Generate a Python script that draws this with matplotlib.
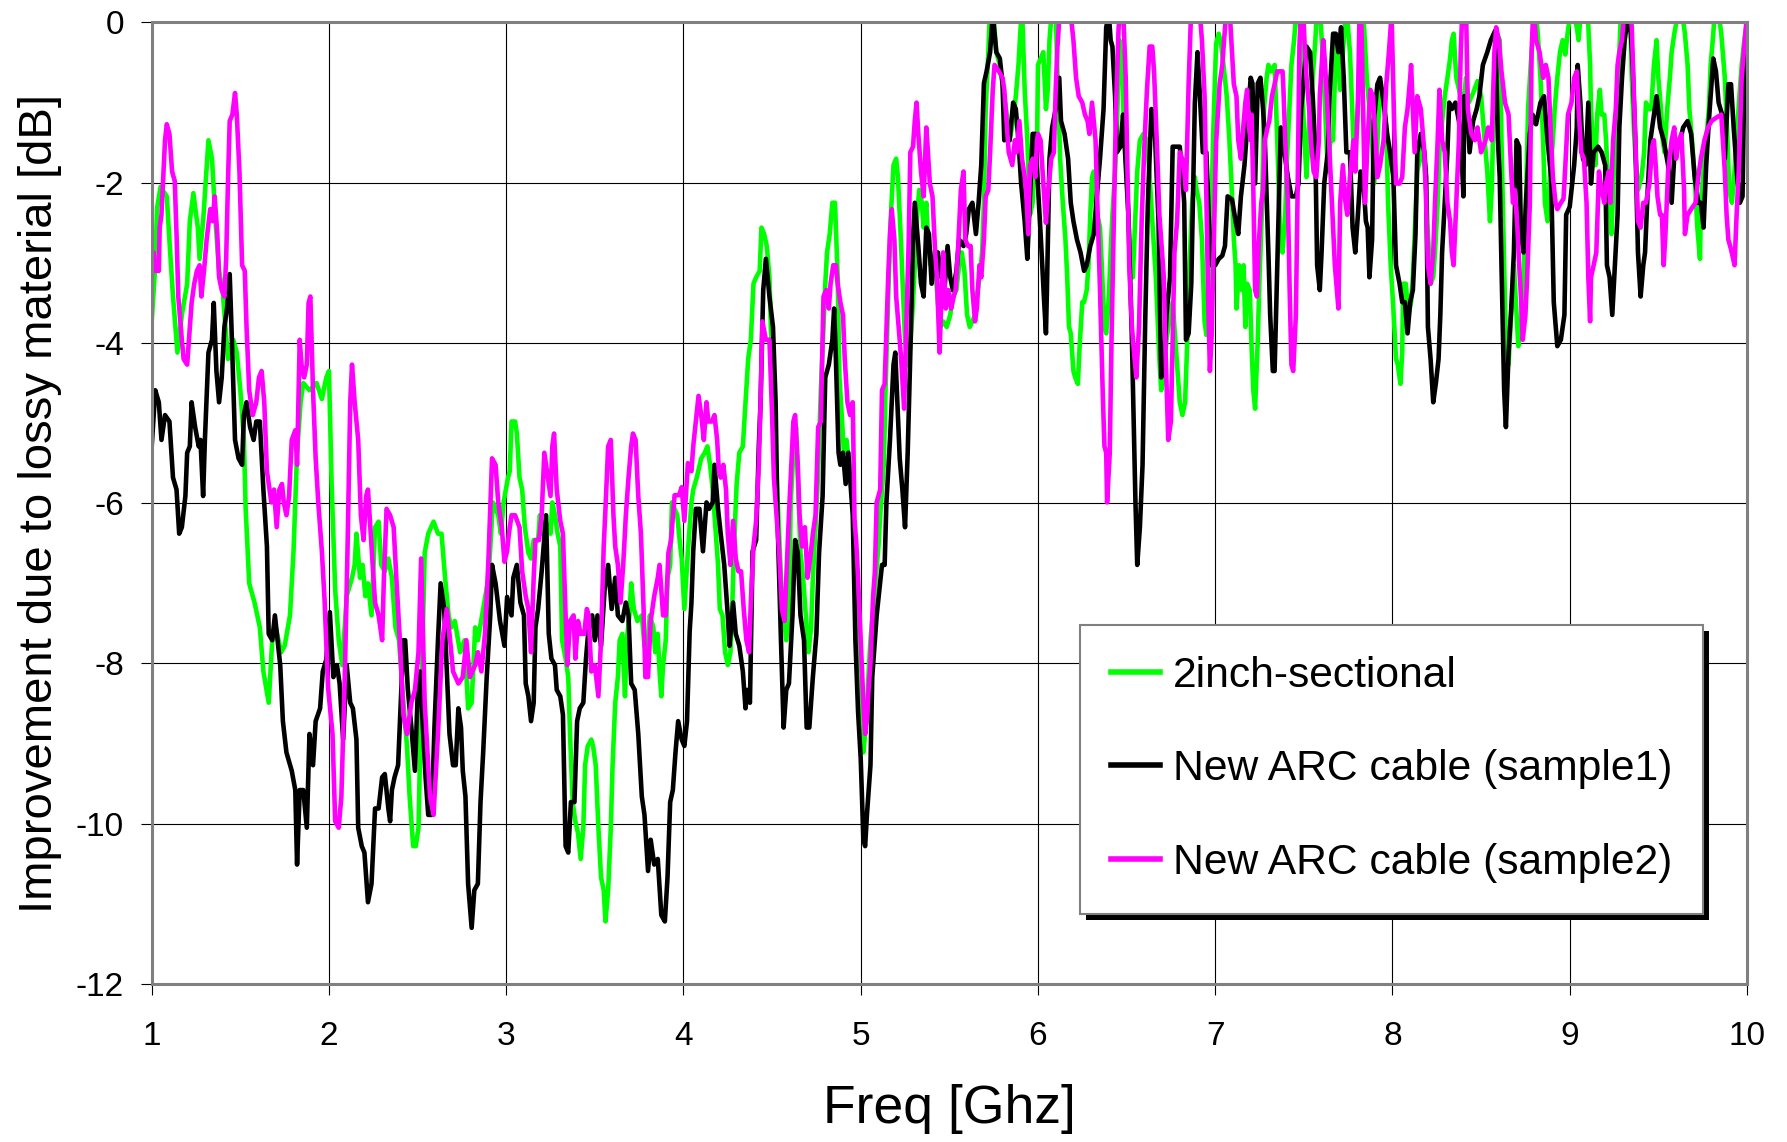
import matplotlib
matplotlib.use('Agg')
import matplotlib.pyplot as plt
from matplotlib.patches import Rectangle
from matplotlib.transforms import IdentityTransform

plt.rcParams['font.family'] = ['Liberation Sans', 'DejaVu Sans']
plt.rcParams['axes.unicode_minus'] = False

# (freq GHz, improvement dB)
green = [
    (1.00, -3.73), (1.02, -3.03), (1.03, -2.32), (1.05, -2.05), (1.085, -2.17), (1.105, -2.9),
    (1.12, -3.42), (1.145, -4.12), (1.17, -3.65), (1.20, -3.26), (1.215, -2.48), (1.235, -2.13),
    (1.26, -2.56), (1.27, -2.95), (1.29, -2.48), (1.32, -1.47), (1.34, -1.70), (1.36, -2.48),
    (1.38, -3.1), (1.40, -3.34), (1.43, -4.2), (1.46, -3.96), (1.48, -4.12), (1.50, -4.59),
    (1.52, -5.2), (1.53, -6.07), (1.55, -7.0), (1.58, -7.24), (1.61, -7.55), (1.63, -8.1),
    (1.66, -8.49), (1.68, -7.71), (1.70, -7.55), (1.73, -7.86), (1.75, -7.78), (1.78, -7.4),
    (1.80, -6.6), (1.82, -5.37), (1.84, -4.74), (1.855, -4.5), (1.89, -4.59), (1.93, -4.5),
    (1.96, -4.7), (1.985, -4.43), (2.0, -4.35), (2.015, -5.76), (2.035, -7.08), (2.055, -7.71),
    (2.075, -8.02), (2.1, -7.16), (2.13, -6.93), (2.145, -6.77), (2.155, -6.38), (2.175, -6.93),
    (2.19, -6.77), (2.205, -7.16), (2.22, -7.0), (2.24, -7.4), (2.26, -6.3), (2.28, -6.23),
    (2.295, -6.77), (2.315, -6.85), (2.335, -6.69), (2.355, -6.93), (2.375, -7.55), (2.395, -7.71),
    (2.42, -8.49), (2.44, -9.03), (2.455, -9.66), (2.475, -10.28), (2.49, -10.28), (2.505, -10.05),
    (2.52, -8.49), (2.54, -6.62), (2.56, -6.38), (2.59, -6.23), (2.615, -6.38), (2.635, -6.38),
    (2.655, -6.93), (2.675, -7.4), (2.69, -7.55), (2.71, -7.47), (2.74, -7.86), (2.765, -7.71),
    (2.785, -8.56), (2.805, -8.49), (2.825, -7.55), (2.84, -7.71), (2.87, -7.32), (2.9, -6.93),
    (2.925, -5.99), (2.955, -6.15), (2.97, -6.38), (2.985, -5.99), (3.01, -5.68), (3.02, -5.6),
    (3.03, -4.98), (3.05, -4.98), (3.06, -5.13), (3.075, -5.68), (3.09, -5.83), (3.105, -6.3),
    (3.125, -6.62), (3.14, -6.69), (3.155, -6.46), (3.18, -6.46), (3.19, -6.15), (3.205, -6.38),
    (3.22, -6.23), (3.235, -6.3), (3.25, -6.38), (3.26, -5.99), (3.275, -6.15), (3.29, -6.38),
    (3.305, -6.54), (3.315, -7.71), (3.335, -7.94), (3.35, -8.17), (3.36, -8.88), (3.375, -9.73),
    (3.39, -9.97), (3.405, -10.12), (3.42, -10.44), (3.435, -10.05), (3.445, -9.27), (3.46, -9.03),
    (3.48, -8.95), (3.49, -9.03), (3.505, -9.27), (3.52, -10.05), (3.535, -10.67), (3.55, -10.83),
    (3.56, -11.22), (3.575, -10.83), (3.59, -10.05), (3.6, -9.27), (3.615, -8.49), (3.63, -8.17),
    (3.64, -7.71), (3.655, -7.63), (3.67, -8.41), (3.68, -7.71), (3.695, -7.4), (3.705, -7.0),
    (3.72, -7.32), (3.74, -7.47), (3.765, -7.4), (3.78, -7.78), (3.795, -7.86), (3.81, -7.4),
    (3.83, -7.55), (3.84, -7.86), (3.855, -7.63), (3.865, -8.1), (3.875, -8.41), (3.885, -8.02),
    (3.9, -7.71), (3.91, -6.93), (3.925, -6.77), (3.935, -5.99), (3.95, -6.07), (3.965, -6.15),
    (3.98, -6.5), (3.99, -6.69), (4.005, -7.32), (4.025, -6.6), (4.045, -5.99), (4.055, -5.83),
    (4.075, -5.68), (4.1, -5.44), (4.12, -5.37), (4.135, -5.29), (4.15, -5.52), (4.165, -5.83),
    (4.18, -6.3), (4.195, -6.77), (4.205, -7.32), (4.22, -7.4), (4.235, -7.86), (4.25, -8.02),
    (4.265, -7.86), (4.275, -7.32), (4.285, -6.54), (4.3, -5.76), (4.315, -5.37), (4.335, -5.29),
    (4.35, -4.74), (4.365, -4.2), (4.38, -3.96), (4.395, -3.26), (4.41, -3.18), (4.43, -3.1),
    (4.44, -2.56), (4.455, -2.64), (4.47, -2.79), (4.485, -3.18), (4.495, -3.96), (4.51, -4.59),
    (4.52, -5.37), (4.535, -6.15), (4.55, -6.93), (4.565, -7.4), (4.58, -7.71), (4.595, -7.4),
    (4.605, -5.99), (4.62, -5.37), (4.635, -5.05), (4.65, -5.99), (4.66, -6.62), (4.675, -6.93),
    (4.69, -7.4), (4.705, -7.86), (4.72, -7.55), (4.73, -6.93), (4.745, -6.3), (4.76, -5.6),
    (4.775, -4.59), (4.79, -3.8), (4.8, -3.26), (4.81, -2.87), (4.825, -2.64), (4.84, -2.25),
    (4.855, -2.25), (4.87, -3.18), (4.88, -4.43), (4.895, -4.98), (4.905, -5.37), (4.92, -5.21),
    (4.935, -5.52), (4.95, -5.68), (4.96, -6.15), (4.975, -6.93), (4.985, -7.71), (5.0, -8.49),
    (5.015, -9.11), (5.03, -8.75), (5.045, -8.1), (5.055, -7.71), (5.07, -7.32), (5.085, -6.93),
    (5.1, -6.54), (5.11, -6.15), (5.13, -5.52), (5.14, -4.59), (5.155, -3.42), (5.17, -2.4),
    (5.185, -1.78), (5.2, -1.7), (5.21, -1.93), (5.225, -2.64), (5.235, -3.18), (5.25, -3.96),
    (5.265, -4.27), (5.28, -4.04), (5.295, -3.49), (5.305, -3.03), (5.315, -2.48), (5.33, -2.09),
    (5.345, -2.25), (5.355, -2.56), (5.37, -2.25), (5.38, -2.71), (5.395, -3.03), (5.41, -2.87),
    (5.425, -3.18), (5.435, -3.49), (5.45, -3.8), (5.465, -3.73), (5.485, -3.8), (5.505, -3.65),
    (5.52, -3.42), (5.54, -3.34), (5.555, -3.03), (5.57, -2.87), (5.585, -3.1), (5.6, -3.65),
    (5.615, -3.8), (5.63, -3.73), (5.645, -3.65), (5.655, -3.42), (5.67, -3.18), (5.685, -2.87),
    (5.695, -2.25), (5.705, -1.08), (5.72, -0.37), (5.73, 0.2), (5.745, 0.2), (5.765, -0.37),
    (5.785, -0.53), (5.805, -0.84), (5.82, -1.08), (5.84, -1.47), (5.86, -1.23), (5.875, -0.92),
    (5.89, -0.53), (5.9, -0.14), (5.91, 0.2), (5.925, -0.84), (5.94, -1.47), (5.955, -2.4),
    (5.97, -2.25), (5.98, -1.7), (5.995, -1.47), (6.0, -0.53), (6.015, -0.45), (6.03, -0.37),
    (6.045, -1.08), (6.055, -0.84), (6.065, -0.22), (6.08, 0.2), (6.1, 0.2), (6.11, -0.69),
    (6.12, -1.31), (6.125, -1.7), (6.14, -2.25), (6.155, -2.71), (6.165, -3.18), (6.175, -3.8),
    (6.185, -3.88), (6.2, -4.35), (6.21, -4.43), (6.225, -4.51), (6.235, -4.04), (6.25, -3.49),
    (6.26, -3.49), (6.275, -3.34), (6.285, -3.03), (6.295, -2.4), (6.305, -1.93), (6.315, -1.86),
    (6.325, -2.25), (6.335, -2.4), (6.35, -2.56), (6.36, -3.03), (6.375, -3.8), (6.385, -3.88),
    (6.4, -3.42), (6.41, -2.87), (6.42, -2.4), (6.435, -1.86), (6.445, -1.31), (6.46, -0.22),
    (6.475, -0.53), (6.485, -1.31), (6.5, -1.86), (6.52, -2.87), (6.535, -3.18), (6.545, -2.64),
    (6.56, -1.86), (6.575, -1.47), (6.595, -1.39), (6.615, -1.47), (6.63, -1.93), (6.645, -2.48),
    (6.665, -3.18), (6.685, -4.2), (6.695, -4.59), (6.71, -4.43), (6.725, -3.96), (6.74, -3.73),
    (6.76, -3.49), (6.77, -3.8), (6.785, -4.27), (6.8, -4.74), (6.815, -4.9), (6.83, -4.74),
    (6.84, -4.12), (6.855, -3.03), (6.87, -2.25), (6.885, -1.93), (6.895, -2.09), (6.91, -2.25),
    (6.925, -2.71), (6.94, -3.73), (6.95, -3.9), (6.965, -3.4), (6.975, -2.6), (6.99, -1.3),
    (7.005, -0.26), (7.02, -0.14), (7.035, -0.3), (7.05, -0.6), (7.065, -0.92), (7.08, -1.47),
    (7.095, -2.17), (7.105, -2.71), (7.115, -3.03), (7.12, -3.57), (7.135, -3.03), (7.15, -3.34),
    (7.16, -3.03), (7.17, -3.8), (7.18, -3.26), (7.195, -3.34), (7.205, -4.04), (7.215, -4.59),
    (7.225, -4.82), (7.24, -3.96), (7.25, -3.18), (7.265, -2.25), (7.275, -1.08), (7.29, -0.69),
    (7.3, -0.53), (7.315, -0.61), (7.335, -0.53), (7.35, -1.47), (7.365, -2.56), (7.38, -2.87),
    (7.395, -2.4), (7.405, -1.7), (7.42, -1.0), (7.43, -0.53), (7.445, -0.22), (7.46, 0.2),
    (7.475, 0.2), (7.49, -0.69), (7.5, -1.31), (7.515, -1.93), (7.525, -1.47), (7.535, -1.08),
    (7.55, -0.69), (7.565, -0.22), (7.575, 0.2), (7.59, 0.2), (7.605, -0.37), (7.62, -1.08),
    (7.635, -1.86), (7.65, -1.47), (7.665, -1.47), (7.675, -0.69), (7.69, -0.22), (7.705, -0.84),
    (7.715, -0.53), (7.725, -0.22), (7.74, 0.2), (7.76, -0.37), (7.78, -1.47), (7.8, -1.31),
    (7.815, -0.53), (7.825, 0.2), (7.84, -0.06), (7.855, -0.69), (7.87, -1.08), (7.885, -1.47),
    (7.895, -2.01), (7.91, -1.78), (7.92, -1.23), (7.935, -0.84), (7.95, -0.84), (7.965, -1.31),
    (7.975, -2.25), (7.99, -3.03), (8.005, -3.57), (8.02, -4.2), (8.03, -4.27), (8.045, -4.51),
    (8.055, -4.12), (8.06, -3.26), (8.075, -3.26), (8.09, -3.65), (8.105, -3.49), (8.115, -3.18),
    (8.125, -2.64), (8.14, -1.86), (8.155, -1.7), (8.165, -1.47), (8.18, -1.78), (8.19, -2.09),
    (8.2, -2.64), (8.215, -3.26), (8.23, -3.18), (8.24, -2.87), (8.255, -2.25), (8.265, -1.62),
    (8.28, -1.23), (8.295, -0.92), (8.31, -0.69), (8.325, -0.45), (8.335, -0.22), (8.345, -0.14),
    (8.36, -0.69), (8.38, -0.88), (8.405, -0.92), (8.415, -0.69), (8.43, -1.0), (8.455, -0.88),
    (8.48, -0.73), (8.5, -0.92), (8.52, -1.47), (8.535, -1.86), (8.55, -2.48), (8.56, -2.09),
    (8.575, -0.69), (8.59, -0.14), (8.605, -0.22), (8.615, -1.47), (8.63, -3.03), (8.64, -3.96),
    (8.655, -4.27), (8.67, -3.65), (8.685, -3.03), (8.7, -3.65), (8.71, -4.04), (8.725, -3.8),
    (8.74, -3.18), (8.755, -2.09), (8.765, -1.08), (8.78, -0.53), (8.79, -0.22), (8.805, 0.2),
    (8.82, -0.14), (8.835, -0.69), (8.85, -1.47), (8.86, -2.25), (8.875, -2.48), (8.89, -1.86),
    (8.905, -1.47), (8.915, -1.08), (8.93, -0.69), (8.945, -0.37), (8.96, -0.22), (8.975, -0.4),
    (8.99, -0.1), (9.01, 0.2), (9.04, -0.06), (9.05, -0.22), (9.065, 0.2), (9.1, 0.2),
    (9.115, -0.53), (9.12, -1.08), (9.13, -1.47), (9.145, -1.78), (9.155, -1.15), (9.17, -0.84),
    (9.18, -1.15), (9.195, -1.15), (9.205, -1.47), (9.215, -1.93), (9.225, -2.25), (9.235, -2.64),
    (9.245, -2.09), (9.255, -1.47), (9.27, -0.84), (9.28, -0.37), (9.29, 0.2), (9.34, 0.2),
    (9.35, -0.69), (9.365, -1.47), (9.385, -2.09), (9.405, -1.93), (9.42, -1.62), (9.43, -1.0),
    (9.445, -1.08), (9.46, -1.08), (9.475, -0.53), (9.49, -0.22), (9.5, -0.69), (9.515, -1.08),
    (9.525, -1.47), (9.535, -1.62), (9.55, -1.08), (9.565, -0.69), (9.575, -0.37), (9.59, -0.14),
    (9.61, 0.1), (9.635, 0.1), (9.65, -0.14), (9.665, -0.53), (9.675, -1.08), (9.69, -1.47),
    (9.705, -1.93), (9.72, -2.56), (9.735, -2.95), (9.74, -2.25), (9.755, -1.86), (9.77, -1.47),
    (9.785, -1.08), (9.795, -0.53), (9.81, -0.14), (9.82, 0.2), (9.835, 0.2), (9.855, -0.14),
    (9.875, -0.69), (9.89, -1.47), (9.9, -2.09), (9.915, -2.25), (9.93, -1.86), (9.945, -1.31),
    (9.96, -0.84), (9.97, -0.53), (9.985, -0.22), (10.0, 0.0),
]

sample1 = [
    (1.0, -5.29), (1.02, -4.59), (1.04, -4.74), (1.055, -5.21), (1.075, -4.9), (1.10, -4.98),
    (1.12, -5.68), (1.14, -5.83), (1.155, -6.38), (1.17, -6.3), (1.19, -5.91), (1.20, -5.37),
    (1.215, -5.29), (1.225, -4.74), (1.245, -5.05), (1.265, -5.29), (1.275, -5.21), (1.29, -5.91),
    (1.30, -5.21), (1.32, -4.12), (1.34, -3.96), (1.35, -3.5), (1.365, -4.35), (1.38, -4.74),
    (1.395, -4.43), (1.41, -3.8), (1.425, -3.57), (1.44, -3.14), (1.45, -3.8), (1.47, -5.21),
    (1.49, -5.44), (1.51, -5.52), (1.52, -4.9), (1.535, -4.74), (1.555, -5.05), (1.575, -5.21),
    (1.59, -4.98), (1.61, -4.98), (1.63, -5.83), (1.65, -6.54), (1.66, -7.63), (1.68, -7.71),
    (1.695, -7.4), (1.725, -8.02), (1.74, -8.72), (1.76, -9.11), (1.79, -9.34), (1.81, -9.58),
    (1.82, -10.51), (1.835, -9.58), (1.855, -9.58), (1.875, -10.05), (1.89, -8.88), (1.91, -9.27),
    (1.925, -8.72), (1.95, -8.56), (1.965, -8.1), (1.985, -7.95), (2.005, -7.36), (2.025, -8.17),
    (2.045, -8.02), (2.06, -8.25), (2.08, -8.95), (2.1, -8.02), (2.12, -8.49), (2.135, -8.56),
    (2.155, -8.95), (2.165, -10.05), (2.185, -10.28), (2.2, -10.36), (2.22, -10.98), (2.24, -10.75),
    (2.26, -9.81), (2.28, -9.81), (2.3, -9.42), (2.315, -9.38), (2.335, -9.81), (2.345, -9.97),
    (2.355, -9.58), (2.37, -9.42), (2.39, -9.27), (2.405, -8.49), (2.42, -7.71), (2.43, -7.71),
    (2.445, -8.33), (2.465, -8.8), (2.485, -9.34), (2.5, -8.41), (2.515, -8.1), (2.53, -8.8),
    (2.545, -9.42), (2.56, -9.89), (2.58, -9.89), (2.595, -8.8), (2.615, -7.71), (2.63, -7.0),
    (2.65, -7.32), (2.665, -8.1), (2.68, -8.88), (2.70, -9.27), (2.715, -9.27), (2.73, -8.56),
    (2.745, -8.8), (2.755, -9.34), (2.77, -9.66), (2.785, -10.75), (2.805, -11.3), (2.82, -10.83),
    (2.84, -10.75), (2.855, -9.73), (2.87, -9.11), (2.89, -8.17), (2.91, -7.4), (2.92, -6.77),
    (2.94, -7.0), (2.965, -7.47), (2.99, -7.78), (3.005, -7.17), (3.03, -7.4), (3.04, -6.93),
    (3.06, -6.77), (3.08, -7.24), (3.1, -7.4), (3.11, -8.25), (3.125, -8.41), (3.14, -8.72),
    (3.155, -8.49), (3.165, -7.55), (3.18, -7.32), (3.2, -6.85), (3.225, -6.15), (3.24, -7.63),
    (3.255, -7.94), (3.275, -8.02), (3.285, -8.33), (3.305, -8.41), (3.32, -8.64), (3.335, -10.28),
    (3.35, -10.36), (3.365, -9.73), (3.385, -9.73), (3.4, -8.72), (3.415, -8.56), (3.435, -8.49),
    (3.45, -7.94), (3.465, -7.55), (3.485, -7.4), (3.5, -7.71), (3.515, -7.4), (3.535, -7.78),
    (3.555, -7.08), (3.575, -6.77), (3.595, -7.32), (3.615, -6.93), (3.63, -7.4), (3.655, -7.47),
    (3.675, -7.24), (3.69, -7.4), (3.705, -8.25), (3.725, -8.33), (3.745, -8.88), (3.765, -9.66),
    (3.78, -9.89), (3.8, -10.59), (3.815, -10.2), (3.835, -10.51), (3.855, -10.44), (3.875, -11.14),
    (3.895, -11.22), (3.91, -10.67), (3.925, -9.73), (3.94, -9.58), (3.955, -9.11), (3.97, -8.72),
    (3.99, -8.95), (4.005, -9.03), (4.02, -8.72), (4.035, -7.6), (4.045, -7.24), (4.055, -6.6),
    (4.07, -6.07), (4.09, -6.07), (4.11, -6.6), (4.13, -5.99), (4.145, -6.07), (4.165, -5.99),
    (4.175, -5.52), (4.195, -6.07), (4.21, -6.38), (4.23, -6.77), (4.25, -7.4), (4.26, -7.78),
    (4.28, -7.24), (4.295, -7.63), (4.315, -7.78), (4.335, -8.1), (4.35, -8.56), (4.36, -8.33),
    (4.375, -8.49), (4.39, -6.6), (4.41, -6.46), (4.425, -5.29), (4.435, -4.74), (4.45, -3.34),
    (4.465, -2.95), (4.485, -3.42), (4.505, -3.8), (4.52, -4.74), (4.53, -6.15), (4.55, -7.71),
    (4.565, -8.8), (4.58, -8.33), (4.595, -8.25), (4.615, -7.4), (4.63, -6.46), (4.645, -6.62),
    (4.66, -7.4), (4.68, -7.71), (4.695, -8.8), (4.71, -8.8), (4.73, -8.17), (4.75, -7.63),
    (4.765, -6.62), (4.785, -5.91), (4.80, -4.43), (4.82, -4.27), (4.84, -3.96), (4.85, -3.57),
    (4.86, -4.2), (4.875, -5.37), (4.885, -5.52), (4.9, -5.37), (4.915, -5.76), (4.93, -5.37),
    (4.955, -6.15), (4.97, -7.71), (4.985, -8.6), (5.0, -9.19), (5.015, -10.2), (5.025, -10.28),
    (5.035, -9.89), (5.055, -9.27), (5.065, -8.17), (5.09, -7.4), (5.12, -6.77), (5.135, -6.77),
    (5.145, -5.99), (5.165, -5.21), (5.185, -4.27), (5.195, -4.12), (5.205, -4.66), (5.22, -5.44),
    (5.235, -5.83), (5.25, -6.3), (5.265, -5.37), (5.28, -4.12), (5.295, -2.71), (5.305, -2.25),
    (5.325, -2.79), (5.34, -3.26), (5.355, -3.42), (5.37, -2.56), (5.385, -2.64), (5.40, -3.26),
    (5.42, -2.87), (5.435, -2.87), (5.455, -3.18), (5.475, -3.26), (5.49, -2.79), (5.505, -3.18),
    (5.52, -3.34), (5.54, -3.1), (5.555, -2.71), (5.58, -2.79), (5.595, -2.64), (5.61, -2.33),
    (5.63, -2.25), (5.65, -2.64), (5.665, -2.25), (5.68, -1.78), (5.695, -0.76), (5.71, -0.61),
    (5.73, -0.37), (5.745, 0.1), (5.765, -0.37), (5.785, -0.45), (5.8, -0.76), (5.81, -1.47),
    (5.825, -1.39), (5.84, -1.47), (5.86, -1.0), (5.875, -1.08), (5.89, -1.47), (5.905, -2.01),
    (5.925, -2.48), (5.94, -2.95), (5.955, -2.17), (5.97, -1.39), (5.985, -1.39), (6.0, -2.05),
    (6.015, -2.64), (6.035, -3.49), (6.045, -3.88), (6.05, -3.4), (6.065, -1.7), (6.08, -1.31),
    (6.1, -1.08), (6.12, -0.69), (6.13, -1.23), (6.15, -1.39), (6.17, -1.7), (6.185, -2.25),
    (6.2, -2.48), (6.22, -2.71), (6.24, -2.87), (6.26, -3.1), (6.275, -3.03), (6.295, -2.79),
    (6.315, -2.64), (6.335, -2.09), (6.35, -1.7), (6.37, -1.08), (6.385, -0.06), (6.4, 0.1),
    (6.41, -0.22), (6.42, -0.3), (6.435, -0.92), (6.445, -1.62), (6.465, -1.55), (6.48, -1.15),
    (6.495, -1.78), (6.51, -2.4), (6.53, -3.96), (6.55, -5.99), (6.56, -6.77), (6.575, -6.3),
    (6.59, -5.52), (6.605, -3.73), (6.62, -2.25), (6.64, -1.08), (6.66, -1.39), (6.68, -2.48),
    (6.695, -4.43), (6.71, -4.35), (6.725, -3.65), (6.745, -3.18), (6.76, -1.55), (6.78, -1.55),
    (6.8, -1.55), (6.815, -1.93), (6.825, -2.25), (6.835, -3.96), (6.85, -3.88), (6.865, -3.26),
    (6.885, -1.0), (6.9, -0.37), (6.91, -0.77), (6.93, -1.62), (6.95, -1.62), (6.965, -2.5),
    (6.98, -3.03), (7.0, -3.03), (7.02, -2.95), (7.04, -2.91), (7.055, -2.79), (7.07, -2.17),
    (7.095, -2.21), (7.115, -2.48), (7.13, -2.64), (7.145, -2.17), (7.165, -1.78), (7.18, -1.31),
    (7.2, -0.69), (7.21, -0.76), (7.225, -2.01), (7.24, -0.76), (7.255, -0.69), (7.27, -1.08),
    (7.28, -1.47), (7.3, -2.87), (7.31, -3.65), (7.325, -4.35), (7.335, -4.35), (7.35, -3.03),
    (7.355, -2.56), (7.37, -1.31), (7.39, -1.62), (7.41, -1.93), (7.43, -2.17), (7.455, -2.17),
    (7.47, -2.01), (7.485, -1.08), (7.5, -0.69), (7.515, -0.3), (7.535, -0.37), (7.55, -0.92),
    (7.565, -1.62), (7.575, -3.03), (7.59, -3.34), (7.6, -2.87), (7.615, -2.01), (7.635, -1.62),
    (7.645, -0.92), (7.665, -0.14), (7.68, -0.14), (7.695, -0.37), (7.71, -0.06), (7.725, -0.69),
    (7.74, -1.62), (7.76, -1.62), (7.775, -2.56), (7.79, -2.87), (7.805, -2.4), (7.82, -1.86),
    (7.835, -1.93), (7.85, -2.48), (7.86, -2.56), (7.87, -3.18), (7.885, -2.71), (7.895, -1.23),
    (7.915, -0.77), (7.93, -0.69), (7.95, -1.0), (7.97, -1.39), (7.985, -1.6), (8.005, -1.93),
    (8.02, -3.03), (8.04, -3.26), (8.055, -3.49), (8.07, -3.49), (8.085, -3.88), (8.1, -3.49),
    (8.115, -3.34), (8.13, -2.64), (8.14, -1.62), (8.16, -1.39), (8.18, -1.62), (8.19, -1.93),
    (8.2, -3.8), (8.215, -4.2), (8.23, -4.74), (8.245, -4.5), (8.26, -4.2), (8.27, -3.65),
    (8.28, -2.87), (8.295, -2.25), (8.31, -1.62), (8.32, -1.0), (8.335, -1.08), (8.355, -1.0),
    (8.375, -1.23), (8.39, -1.62), (8.4, -2.17), (8.405, -0.92), (8.42, -1.0), (8.435, -1.62),
    (8.455, -1.23), (8.475, -1.08), (8.49, -0.92), (8.51, -0.53), (8.535, -0.37), (8.555, -0.22),
    (8.58, -0.1), (8.595, -1.47), (8.605, -1.93), (8.615, -3.03), (8.63, -4.59), (8.64, -5.05),
    (8.655, -4.12), (8.67, -3.57), (8.685, -2.87), (8.7, -1.47), (8.715, -1.55), (8.725, -2.64),
    (8.74, -2.87), (8.755, -2.17), (8.775, -1.39), (8.79, -1.15), (8.81, -1.27), (8.835, -1.0),
    (8.855, -0.92), (8.875, -1.47), (8.895, -1.93), (8.91, -3.49), (8.93, -4.04), (8.95, -3.96),
    (8.97, -3.65), (8.98, -2.4), (9.0, -2.3), (9.025, -1.78), (9.04, -1.31), (9.045, -0.53),
    (9.06, -1.0), (9.075, -1.7), (9.09, -1.78), (9.105, -1.0), (9.12, -2.01), (9.135, -1.62),
    (9.16, -1.55), (9.18, -1.62), (9.2, -1.78), (9.21, -3.03), (9.225, -3.18), (9.24, -3.65),
    (9.255, -3.03), (9.27, -2.4), (9.28, -1.31), (9.295, -0.69), (9.31, -0.22), (9.33, 0.1),
    (9.345, -0.14), (9.355, -0.53), (9.37, -1.47), (9.385, -2.87), (9.4, -3.42), (9.415, -3.03),
    (9.425, -2.87), (9.44, -2.09), (9.455, -1.47), (9.475, -1.15), (9.49, -0.92), (9.51, -1.31),
    (9.53, -1.47), (9.555, -1.78), (9.575, -2.25), (9.595, -1.47), (9.615, -1.55), (9.64, -1.31),
    (9.665, -1.23), (9.685, -1.39), (9.705, -1.93), (9.725, -2.25), (9.74, -2.25), (9.755, -2.56),
    (9.77, -1.78), (9.785, -1.23), (9.8, -0.77), (9.81, -0.45), (9.825, -0.61), (9.84, -1.0),
    (9.86, -1.15), (9.875, -1.7), (9.895, -0.77), (9.91, -0.77), (9.925, -1.31), (9.945, -1.93),
    (9.96, -2.25), (9.975, -2.17), (9.985, -0.69), (10.0, -0.06),
]

sample2 = [
    (1.0, -3.18), (1.01, -2.87), (1.025, -3.1), (1.04, -3.1), (1.045, -2.56), (1.055, -2.4),
    (1.065, -1.93), (1.075, -1.47), (1.085, -1.27), (1.1, -1.39), (1.115, -1.86), (1.13, -1.98),
    (1.14, -2.64), (1.15, -3.42), (1.17, -3.96), (1.18, -4.2), (1.2, -4.27), (1.21, -3.96),
    (1.225, -3.5), (1.24, -3.26), (1.255, -3.1), (1.27, -3.03), (1.28, -3.42), (1.295, -3.1),
    (1.31, -2.71), (1.33, -2.33), (1.345, -2.48), (1.355, -2.17), (1.37, -2.64), (1.38, -3.18),
    (1.395, -3.34), (1.41, -3.42), (1.42, -2.95), (1.43, -2.01), (1.44, -1.23), (1.455, -1.15),
    (1.47, -0.88), (1.48, -1.15), (1.495, -1.86), (1.51, -3.03), (1.525, -3.1), (1.535, -3.8),
    (1.55, -4.59), (1.57, -4.9), (1.59, -4.74), (1.605, -4.43), (1.62, -4.35), (1.635, -4.74),
    (1.65, -5.6), (1.665, -5.83), (1.675, -5.99), (1.69, -5.83), (1.705, -6.3), (1.72, -5.83),
    (1.735, -5.76), (1.745, -5.99), (1.76, -6.15), (1.775, -5.91), (1.79, -5.21), (1.81, -5.09),
    (1.82, -5.52), (1.835, -3.96), (1.845, -4.27), (1.86, -4.43), (1.875, -4.27), (1.885, -3.5),
    (1.895, -3.42), (1.91, -4.59), (1.925, -5.44), (1.94, -6.0), (1.96, -6.6), (1.975, -7.2),
    (1.995, -8.3), (2.02, -8.88), (2.035, -9.97), (2.055, -10.05), (2.07, -9.66), (2.09, -8.1),
    (2.105, -6.54), (2.12, -4.74), (2.13, -4.27), (2.145, -4.74), (2.165, -5.21), (2.18, -6.15),
    (2.195, -6.46), (2.21, -5.91), (2.22, -5.83), (2.24, -6.54), (2.26, -7.24), (2.28, -7.4),
    (2.3, -7.71), (2.31, -6.93), (2.325, -6.07), (2.345, -6.15), (2.365, -6.3), (2.38, -6.93),
    (2.4, -7.71), (2.42, -8.64), (2.44, -8.88), (2.465, -8.49), (2.485, -8.33), (2.505, -7.86),
    (2.52, -6.69), (2.54, -8.49), (2.57, -9.66), (2.59, -9.89), (2.615, -8.88), (2.64, -7.71),
    (2.665, -7.32), (2.68, -7.63), (2.7, -8.1), (2.73, -8.25), (2.755, -8.17), (2.775, -7.71),
    (2.795, -8.17), (2.825, -8.02), (2.84, -7.86), (2.86, -8.1), (2.88, -7.63), (2.9, -6.69),
    (2.92, -5.44), (2.94, -5.52), (2.955, -5.99), (2.975, -6.3), (2.99, -6.73), (3.005, -6.6),
    (3.015, -6.38), (3.03, -6.15), (3.05, -6.15), (3.075, -6.3), (3.09, -6.85), (3.11, -7.16),
    (3.125, -7.32), (3.14, -7.86), (3.155, -6.93), (3.165, -6.46), (3.185, -6.46), (3.2, -6.15),
    (3.215, -5.37), (3.23, -5.6), (3.25, -5.91), (3.26, -5.29), (3.27, -5.13), (3.285, -5.83),
    (3.305, -6.22), (3.32, -6.38), (3.335, -7.4), (3.345, -8.02), (3.36, -7.47), (3.38, -7.4),
    (3.39, -7.94), (3.405, -7.47), (3.42, -7.63), (3.44, -7.63), (3.455, -7.32), (3.465, -7.4),
    (3.48, -8.1), (3.5, -8.02), (3.52, -8.41), (3.535, -7.71), (3.55, -6.54), (3.56, -6.07),
    (3.575, -5.29), (3.59, -5.21), (3.605, -6.15), (3.615, -6.54), (3.63, -6.77), (3.645, -7.24),
    (3.66, -6.77), (3.675, -6.15), (3.69, -5.68), (3.705, -5.29), (3.715, -5.13), (3.73, -5.21),
    (3.745, -5.91), (3.76, -6.38), (3.775, -7.32), (3.785, -8.17), (3.8, -8.17), (3.815, -7.47),
    (3.835, -7.16), (3.855, -6.93), (3.865, -6.77), (3.885, -7.4), (3.9, -7.4), (3.915, -6.62),
    (3.93, -6.46), (3.95, -5.9), (3.975, -5.9), (3.99, -5.8), (4.005, -6.22), (4.025, -5.5),
    (4.045, -5.6), (4.055, -5.29), (4.07, -4.98), (4.085, -4.66), (4.1, -4.9), (4.115, -5.21),
    (4.13, -4.74), (4.14, -4.98), (4.16, -4.98), (4.175, -4.9), (4.19, -5.21), (4.2, -5.6),
    (4.21, -5.68), (4.225, -5.52), (4.24, -5.83), (4.25, -6.38), (4.265, -6.77), (4.28, -6.22),
    (4.295, -6.69), (4.31, -6.85), (4.325, -6.85), (4.34, -7.32), (4.355, -7.71), (4.37, -7.86),
    (4.38, -7.24), (4.395, -6.54), (4.41, -6.22), (4.425, -5.52), (4.435, -4.74), (4.445, -3.73),
    (4.465, -3.96), (4.485, -3.96), (4.5, -4.9), (4.51, -5.68), (4.525, -6.15), (4.54, -6.62),
    (4.555, -7.32), (4.57, -7.47), (4.58, -6.93), (4.595, -6.15), (4.605, -5.68), (4.62, -4.98),
    (4.63, -4.9), (4.645, -5.52), (4.655, -6.15), (4.67, -6.54), (4.685, -6.3), (4.7, -6.93),
    (4.715, -6.69), (4.73, -6.38), (4.745, -6.15), (4.76, -5.05), (4.775, -4.98), (4.79, -3.42),
    (4.805, -3.34), (4.82, -3.57), (4.83, -3.26), (4.845, -3.03), (4.86, -3.03), (4.87, -3.26),
    (4.885, -3.49), (4.9, -3.65), (4.91, -4.2), (4.925, -4.74), (4.94, -4.9), (4.955, -4.74),
    (4.965, -6.2), (4.975, -6.5), (4.985, -6.93), (5.0, -7.71), (5.015, -8.49), (5.025, -8.88),
    (5.035, -8.7), (5.045, -8.3), (5.055, -8.0), (5.07, -7.16), (5.08, -6.85), (5.09, -5.99),
    (5.11, -5.83), (5.12, -4.59), (5.135, -4.51), (5.155, -3.18), (5.165, -2.64), (5.175, -2.33),
    (5.19, -2.71), (5.2, -3.42), (5.22, -3.96), (5.23, -4.27), (5.245, -4.82), (5.255, -3.96),
    (5.27, -2.79), (5.28, -1.62), (5.295, -1.55), (5.305, -1.23), (5.315, -1.0), (5.325, -1.39),
    (5.34, -1.86), (5.355, -2.17), (5.37, -1.31), (5.375, -1.47), (5.39, -2.01), (5.405, -2.17),
    (5.42, -2.87), (5.43, -3.18), (5.445, -4.12), (5.455, -3.42), (5.465, -2.87), (5.48, -3.57),
    (5.495, -3.34), (5.51, -3.57), (5.525, -3.42), (5.535, -3.34), (5.55, -2.79), (5.565, -2.09),
    (5.58, -1.86), (5.59, -2.71), (5.605, -2.79), (5.62, -2.79), (5.63, -3.34), (5.645, -3.73),
    (5.655, -3.57), (5.67, -3.03), (5.68, -3.18), (5.695, -2.71), (5.705, -2.17), (5.72, -2.09),
    (5.73, -1.62), (5.745, -0.84), (5.755, -0.53), (5.78, -0.61), (5.8, -0.69), (5.81, -0.84),
    (5.82, -1.15), (5.835, -1.62), (5.855, -1.78), (5.87, -1.47), (5.88, -1.62), (5.895, -1.23),
    (5.91, -1.7), (5.925, -1.93), (5.935, -2.17), (5.945, -2.64), (5.955, -1.78), (5.97, -1.7),
    (5.985, -1.93), (5.995, -1.47), (6.0, -1.39), (6.015, -1.47), (6.03, -2.0), (6.045, -2.5),
    (6.055, -2.17), (6.075, -1.7), (6.09, -1.62), (6.1, -0.84), (6.11, -0.3), (6.125, 0.2),
    (6.18, 0.2), (6.2, -0.22), (6.215, -0.69), (6.23, -0.92), (6.25, -1.0), (6.265, -1.15),
    (6.28, -1.23), (6.29, -1.39), (6.305, -1.0), (6.325, -1.47), (6.335, -2.25), (6.35, -3.34),
    (6.365, -4.59), (6.375, -5.29), (6.385, -5.37), (6.39, -5.99), (6.405, -5.37), (6.415, -3.96),
    (6.43, -2.25), (6.44, -1.08), (6.455, -0.06), (6.47, 0.2), (6.48, 0.2), (6.495, -0.69),
    (6.505, -1.86), (6.515, -3.03), (6.53, -3.8), (6.545, -4.2), (6.555, -4.43), (6.57, -3.8),
    (6.585, -2.48), (6.6, -1.55), (6.615, -0.84), (6.63, -0.3), (6.645, -0.3), (6.655, -0.61),
    (6.67, -1.47), (6.685, -2.4), (6.695, -2.71), (6.71, -3.18), (6.72, -4.12), (6.735, -5.21),
    (6.75, -4.98), (6.76, -3.96), (6.77, -2.87), (6.785, -2.48), (6.8, -1.62), (6.82, -1.74),
    (6.835, -2.09), (6.85, -0.77), (6.865, 0.2), (6.91, 0.2), (6.925, -0.22), (6.94, -0.92),
    (6.95, -2.17), (6.96, -3.42), (6.97, -4.35), (6.98, -3.9), (6.99, -2.9), (7.005, -1.5),
    (7.025, -0.77), (7.04, -0.53), (7.05, -0.22), (7.065, 0.2), (7.08, 0.2), (7.095, -0.37),
    (7.105, -0.77), (7.12, -0.92), (7.13, -1.47), (7.145, -1.7), (7.155, -1.39), (7.17, -1.0),
    (7.18, -0.84), (7.19, -1.31), (7.2, -1.47), (7.205, -1.15), (7.215, -2.09), (7.225, -3.34),
    (7.235, -3.42), (7.245, -2.79), (7.26, -2.25), (7.27, -2.09), (7.28, -1.47), (7.295, -1.31),
    (7.305, -1.23), (7.32, -0.92), (7.335, -0.77), (7.35, -0.61), (7.38, -0.61), (7.385, -0.84),
    (7.395, -1.47), (7.41, -2.25), (7.42, -3.34), (7.43, -4.27), (7.44, -4.35), (7.455, -3.65),
    (7.465, -2.09), (7.475, -0.3), (7.485, 0.2), (7.495, 0.2), (7.505, -0.3), (7.515, -0.69),
    (7.53, -1.08), (7.54, -1.47), (7.555, -1.86), (7.57, -1.93), (7.585, -1.47), (7.59, -0.92),
    (7.605, -0.37), (7.61, -0.22), (7.62, -0.53), (7.635, -1.15), (7.65, -1.86), (7.665, -2.56),
    (7.675, -3.03), (7.695, -3.57), (7.705, -2.25), (7.72, -1.78), (7.735, -2.25), (7.745, -2.4),
    (7.76, -1.93), (7.78, -1.47), (7.79, -1.86), (7.805, -1.0), (7.815, 0.2), (7.825, -0.06),
    (7.845, -2.25), (7.86, -1.47), (7.875, -0.84), (7.89, -0.92), (7.905, -1.47), (7.915, -1.93),
    (7.93, -1.78), (7.95, -1.47), (7.965, -0.77), (7.98, -0.37), (7.995, 0.1), (8.01, -1.3),
    (8.02, -2.01), (8.04, -2.01), (8.055, -1.93), (8.07, -1.31), (8.085, -1.08), (8.1, -0.69),
    (8.105, -0.53), (8.115, -1.08), (8.125, -1.62), (8.14, -0.92), (8.16, -1.08), (8.18, -1.62),
    (8.19, -2.25), (8.2, -3.03), (8.215, -3.26), (8.23, -2.87), (8.24, -2.25), (8.255, -1.47),
    (8.265, -0.84), (8.28, -1.47), (8.295, -1.62), (8.31, -2.25), (8.325, -2.48), (8.335, -2.87),
    (8.345, -3.03), (8.36, -2.25), (8.375, -1.47), (8.385, -0.37), (8.395, 0.2), (8.415, 0.2),
    (8.425, -1.08), (8.445, -1.39), (8.465, -1.47), (8.48, -1.31), (8.5, -1.62), (8.525, -1.47),
    (8.54, -1.31), (8.56, -1.47), (8.575, -0.37), (8.585, -0.06), (8.6, -0.22), (8.615, -0.61),
    (8.635, -1.0), (8.655, -1.15), (8.67, -1.86), (8.68, -2.25), (8.69, -2.09), (8.705, -2.56),
    (8.715, -3.03), (8.725, -3.42), (8.735, -3.96), (8.75, -3.65), (8.76, -3.18), (8.775, -2.25),
    (8.785, -0.37), (8.795, 0.2), (8.81, -0.22), (8.83, -0.37), (8.85, -0.69), (8.865, -0.53),
    (8.88, -0.69), (8.895, -1.47), (8.905, -1.93), (8.92, -2.25), (8.93, -2.33), (8.95, -2.25),
    (8.965, -2.2), (8.975, -1.8), (8.99, -1.15), (9.01, -1.0), (9.025, -0.69), (9.04, -0.61),
    (9.05, -1.08), (9.065, -1.62), (9.08, -1.7), (9.095, -2.25), (9.105, -3.18), (9.115, -3.73),
    (9.12, -3.18), (9.135, -3.03), (9.15, -2.87), (9.165, -1.86), (9.18, -2.09), (9.195, -2.25),
    (9.205, -2.01), (9.22, -1.86), (9.23, -2.25), (9.245, -1.47), (9.26, -1.08), (9.27, -0.53),
    (9.28, -0.37), (9.295, -0.22), (9.31, 0.2), (9.34, 0.2), (9.35, -0.06), (9.365, -1.08),
    (9.385, -2.48), (9.4, -2.56), (9.415, -2.25), (9.43, -2.25), (9.45, -2.01), (9.465, -1.55),
    (9.475, -1.47), (9.485, -1.78), (9.495, -2.17), (9.51, -2.4), (9.52, -2.4), (9.53, -3.03),
    (9.54, -2.64), (9.555, -1.86), (9.575, -1.47), (9.59, -1.31), (9.6, -1.7), (9.615, -1.47),
    (9.63, -1.39), (9.645, -2.09), (9.65, -2.64), (9.665, -2.4), (9.685, -2.33), (9.71, -2.25),
    (9.725, -1.93), (9.74, -1.7), (9.76, -1.47), (9.78, -1.31), (9.8, -1.23), (9.825, -1.19),
    (9.855, -1.15), (9.875, -1.86), (9.885, -2.4), (9.895, -2.71), (9.91, -2.83), (9.93, -3.03),
    (9.94, -2.48), (9.955, -1.78), (9.97, -0.69), (9.985, -0.3), (10.0, 0.1),
]

labels = ['2inch-sectional', 'New ARC cable (sample1)', 'New ARC cable (sample2)']
colors = ['#00FF00', '#000000', '#FF00FF']
x_ticks = [1, 2, 3, 4, 5, 6, 7, 8, 9, 10]
y_ticks = [-12, -10, -8, -6, -4, -2, 0]

fig = plt.figure(figsize=(17.87, 11.42), dpi=100)
ax = fig.add_axes([0.0849, 0.1384, 0.8927, 0.8419])

for series, lab, col in zip([green, sample1, sample2], labels, colors):
    f, v = zip(*series)
    ax.plot(f, v, color=col, lw=3.3, label=lab, solid_joinstyle='round')

ax.set_xlim(1, 10)
ax.set_ylim(-12, 0)
ax.set_xticks(x_ticks)
ax.set_yticks(y_ticks)
ax.grid(True, color='black', lw=0.8)
ax.set_axisbelow(True)
for sp in ax.spines.values():
    sp.set_color('#808080')
    sp.set_linewidth(2.2)
ax.tick_params(axis='both', direction='out', length=8, width=0.8, colors='black', labelsize=24)
ax.tick_params(axis='x', pad=19)
ax.tick_params(axis='y', pad=12)

ax.set_xlabel('Freq [Ghz]', fontsize=38.5)
ax.xaxis.set_label_coords(0.5, -0.104)
ax.set_ylabel('Improvement due to lossy material [dB]', fontsize=34)
ax.yaxis.set_label_coords(-0.056, 0.5)

leg = ax.legend(loc='upper left', bbox_to_anchor=(0.582, 0.3734), borderaxespad=0,
                fontsize=30.7, fancybox=False, framealpha=1, edgecolor='#808080',
                handlelength=1.15, handletextpad=0.3, borderpad=0.72, labelspacing=1.26)
leg.get_frame().set_linewidth(1.5)
for h in leg.get_lines():
    h.set_linewidth(4)

# hard black drop shadow behind the legend box
fig.canvas.draw()
bb = leg.get_window_extent()
shadow = Rectangle((bb.x0 + 6, bb.y0 - 6), bb.width, bb.height, transform=IdentityTransform(),
                   facecolor='black', edgecolor='none', zorder=4.9)
ax.add_patch(shadow)

fig.savefig('out.png', dpi=100)
